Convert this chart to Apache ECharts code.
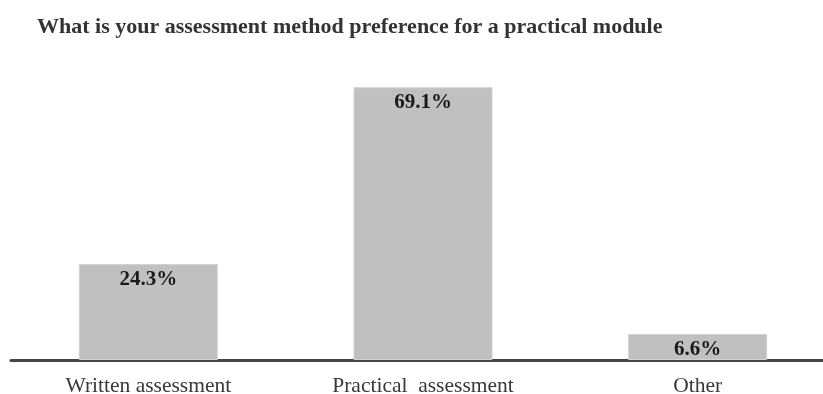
<!DOCTYPE html>
<html>
<head>
<meta charset="utf-8">
<script src="https://cdn.jsdelivr.net/npm/echarts@6/dist/echarts.min.js"></script>
<style>
  html, body { margin: 0; padding: 0; background: #ffffff; }
  #chart { width: 823px; height: 394px; }
</style>
</head>
<body>
<div id="chart"></div>
<script>
// Survey question and answer shares (percent of respondents)
const titleText = 'What is your assessment method preference for a practical module';
const categories = ['Written assessment', 'Practical  assessment', 'Other'];
const shares = [24.3, 69.1, 6.6];

const serif = '"Liberation Serif", "Times New Roman", serif';

const chart = echarts.init(document.getElementById('chart'), null, { renderer: 'canvas' });

chart.setOption({
  animation: false,
  backgroundColor: '#ffffff',
  title: {
    text: titleText,
    left: 32,
    top: 11,
    textStyle: {
      fontFamily: serif,
      fontSize: 22,
      fontWeight: 'bold',
      color: '#333333'
    }
  },
  grid: {
    left: 11,
    width: 824,
    top: 64,
    bottom: 34,
    outerBoundsMode: 'none',
    containLabel: false
  },
  xAxis: {
    type: 'category',
    data: categories,
    axisLine: { show: true, lineStyle: { color: '#454545', width: 3 } },
    axisTick: { show: false },
    axisLabel: {
      fontFamily: serif,
      fontSize: 21.5,
      color: '#383838',
      margin: 15
    }
  },
  yAxis: {
    type: 'value',
    min: 0,
    max: 75,
    show: false,
    splitLine: { show: false }
  },
  series: [{
    type: 'bar',
    data: shares,
    barWidth: 139,
    itemStyle: {
      color: '#c0c0c0',
      borderColor: '#d2d2d2',
      borderWidth: 1
    },
    label: {
      show: true,
      position: 'insideTop',
      distance: 5,
      formatter: p => p.value.toFixed(1) + '%',
      fontFamily: serif,
      fontSize: 21,
      fontWeight: 'bold',
      color: '#1a1a1a'
    }
  }]
});
</script>
</body>
</html>
